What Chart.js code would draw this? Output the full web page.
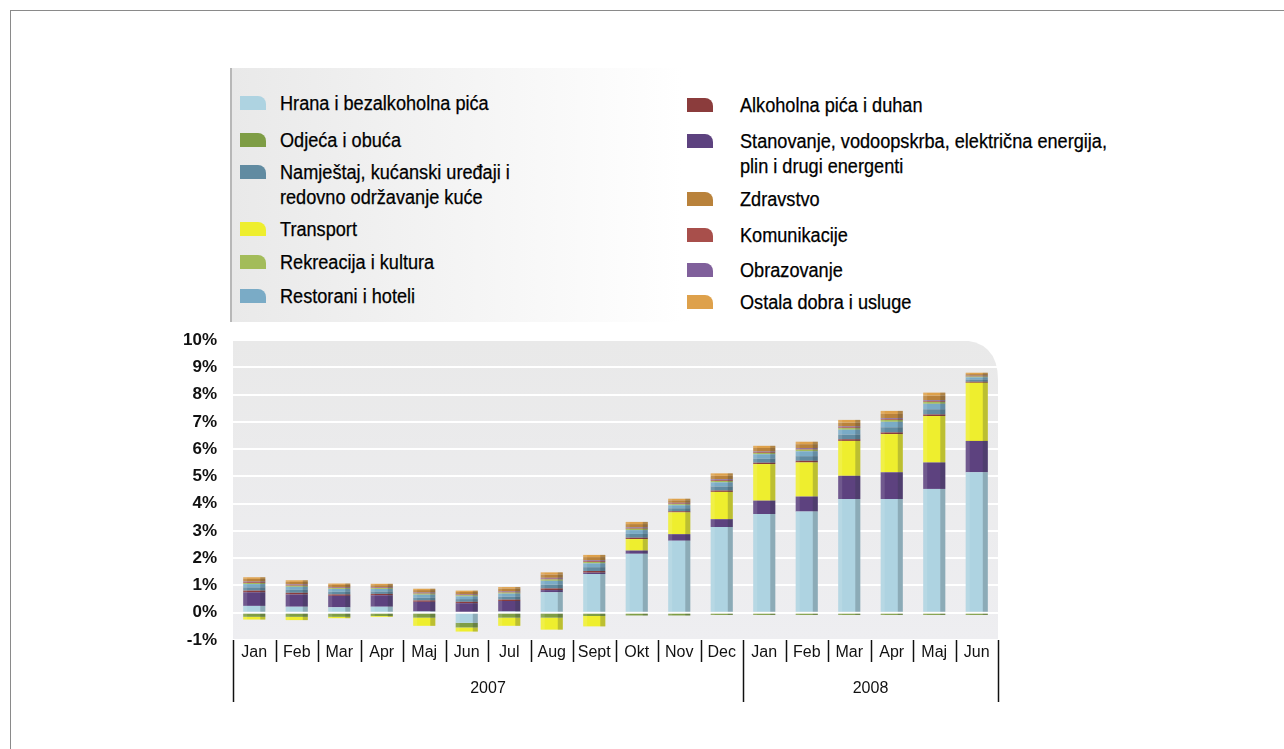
<!DOCTYPE html>
<html>
<head>
<meta charset="utf-8">
<script src="https://cdn.jsdelivr.net/npm/chart.js@4"></script>
<style>
  body { margin: 0; background: #fff; font-family: "Liberation Sans", Arial, sans-serif; }
  #frame { position: absolute; left: 10px; top: 10px; width: 1300px; height: 760px; border-top: 1px solid #8a8a8a; border-left: 1px solid #8a8a8a; }
  #legendBox { position: absolute; left: 230px; top: 68px; width: 450px; height: 254px; border-left: 2px solid #b8b8b8;
    background: linear-gradient(to right, #e9e9e9, #f4f4f4 50%, #ffffff); }
  .item { position: absolute; font-size: 19.5px; line-height: 25px; color: #000; white-space: nowrap;
    transform: scaleX(0.93); transform-origin: left top; -webkit-text-stroke: 0.25px #000; }
  .sw { position: absolute; width: 26px; height: 14px; border-top-right-radius: 8px; }
  canvas { position: absolute; left: 0; top: 0; }
</style>
</head>
<body>
<div id="frame"></div>
<div id="legendBox"></div>
<div id="legend"></div>
<canvas id="myChart" width="1284" height="749"></canvas>
<script>
let months = ["Jan", "Feb", "Mar", "Apr", "Maj", "Jun", "Jul", "Aug", "Sept", "Okt", "Nov", "Dec",
              "Jan", "Feb", "Mar", "Apr", "Maj", "Jun"];
let years = ["2007", "2008"];
let yearSpans = [12, 6];
let yTicks = [-1, 0, 1, 2, 3, 4, 5, 6, 7, 8, 9, 10];

// contributions to inflation, percentage points
let hrana        = [0.25, 0.22, 0.2, 0.22, 0.05, -0.37, 0.05, 0.75, 1.42, 2.16, 2.64, 3.14, 3.62, 3.71, 4.17, 4.17, 4.54, 5.15];
let odjeca       = [-0.15, -0.15, -0.15, -0.12, -0.18, -0.17, -0.18, -0.18, -0.12, -0.1, -0.1, -0.08, -0.08, -0.08, -0.08, -0.08, -0.08, -0.08];
let stanovanje   = [0.5, 0.45, 0.42, 0.42, 0.35, 0.35, 0.38, 0.08, 0.05, 0.12, 0.24, 0.29, 0.49, 0.55, 0.85, 0.98, 0.97, 1.15];
let transport    = [-0.1, -0.12, -0.05, -0.03, -0.3, -0.15, -0.3, -0.44, -0.38, 0.42, 0.8, 1.0, 1.34, 1.25, 1.28, 1.4, 1.7, 2.13];
let alkohol      = [0.06, 0.06, 0.05, 0.05, 0.05, 0.05, 0.05, 0.06, 0.06, 0.05, 0.04, 0.05, 0.05, 0.06, 0.06, 0.06, 0.06, 0.04];
let namjestaj    = [0.12, 0.11, 0.1, 0.09, 0.1, 0.1, 0.11, 0.14, 0.14, 0.14, 0.11, 0.15, 0.15, 0.17, 0.17, 0.19, 0.19, 0.08];
let restorani    = [0.12, 0.11, 0.1, 0.09, 0.11, 0.1, 0.11, 0.14, 0.14, 0.14, 0.11, 0.15, 0.16, 0.18, 0.18, 0.2, 0.2, 0.08];
let rekreacija   = [0.04, 0.04, 0.03, 0.03, 0.04, 0.04, 0.04, 0.05, 0.05, 0.05, 0.04, 0.05, 0.05, 0.06, 0.06, 0.07, 0.07, 0.03];
let komunikacije = [0.03, 0.03, 0.02, 0.02, 0.02, 0.02, 0.03, 0.03, 0.03, 0.03, 0.03, 0.03, 0.03, 0.03, 0.03, 0.03, 0.03, 0.02];
let obrazovanje  = [0.02, 0.02, 0.02, 0.02, 0.02, 0.02, 0.02, 0.03, 0.03, 0.02, 0.02, 0.03, 0.02, 0.03, 0.03, 0.03, 0.03, 0.01];
let zdravstvo    = [0.1, 0.09, 0.08, 0.07, 0.09, 0.08, 0.09, 0.12, 0.12, 0.12, 0.09, 0.13, 0.13, 0.14, 0.14, 0.16, 0.17, 0.06];
let ostalo       = [0.06, 0.06, 0.05, 0.05, 0.05, 0.05, 0.06, 0.08, 0.08, 0.08, 0.06, 0.09, 0.08, 0.09, 0.1, 0.11, 0.11, 0.05];

let series = [
  { label: "Hrana i bezalkoholna pića", data: hrana, color: "#aed3e1" },
  { label: "Odjeća i obuća", data: odjeca, color: "#7e9d45" },
  { label: "Stanovanje, vodoopskrba, električna energija, plin i drugi energenti", data: stanovanje, color: "#5d427f" },
  { label: "Transport", data: transport, color: "#eeee2e" },
  { label: "Alkoholna pića i duhan", data: alkohol, color: "#8b3c3c" },
  { label: "Namještaj, kućanski uređaji i redovno održavanje kuće", data: namjestaj, color: "#618ba1" },
  { label: "Restorani i hoteli", data: restorani, color: "#7aabc6" },
  { label: "Rekreacija i kultura", data: rekreacija, color: "#a3bc5a" },
  { label: "Komunikacije", data: komunikacije, color: "#a84f4b" },
  { label: "Obrazovanje", data: obrazovanje, color: "#80609b" },
  { label: "Zdravstvo", data: zdravstvo, color: "#b9823b" },
  { label: "Ostala dobra i usluge", data: ostalo, color: "#dea14b" },
];

// legend (two columns as in the original)
let legendLeft = [
  ["Hrana i bezalkoholna pića", 91],
  ["Odjeća i obuća", 128],
  ["Namještaj, kućanski uređaji i<br>redovno održavanje kuće", 160],
  ["Transport", 217],
  ["Rekreacija i kultura", 250],
  ["Restorani i hoteli", 284],
];
let legendRight = [
  ["Alkoholna pića i duhan", 93],
  ["Stanovanje, vodoopskrba, električna energija,<br>plin i drugi energenti", 129],
  ["Zdravstvo", 187],
  ["Komunikacije", 223],
  ["Obrazovanje", 258],
  ["Ostala dobra i usluge", 290],
];
function colorOf(name) {
  let plain = name.replace("<br>", " ");
  return series.find(s => s.label === plain).color;
}
let legendHtml = "";
legendLeft.forEach(([t, y]) => {
  legendHtml += `<div class="sw" style="left:240px;top:${y + 5}px;background:${colorOf(t)}"></div>`;
  legendHtml += `<div class="item" style="left:280px;top:${y}px">${t}</div>`;
});
legendRight.forEach(([t, y]) => {
  legendHtml += `<div class="sw" style="left:687px;top:${y + 5}px;background:${colorOf(t)}"></div>`;
  legendHtml += `<div class="item" style="left:740px;top:${y}px">${t}</div>`;
});
document.getElementById("legend").innerHTML = legendHtml;

let sans = "'Liberation Sans', Arial, sans-serif";

// plot background with rounded top-right corner
let plotBg = {
  id: "plotBg",
  beforeDraw(chart) {
    let { ctx, chartArea: a } = chart;
    let r = 40;
    let g = ctx.createLinearGradient(0, a.top, 0, a.bottom);
    g.addColorStop(0, "#e9e9e9");
    g.addColorStop(1, "#eeeef1");
    ctx.save();
    ctx.fillStyle = g;
    ctx.beginPath();
    ctx.moveTo(a.left, a.top);
    ctx.lineTo(a.right - r, a.top);
    ctx.quadraticCurveTo(a.right, a.top, a.right, a.top + r);
    ctx.lineTo(a.right, a.bottom);
    ctx.lineTo(a.left, a.bottom);
    ctx.closePath();
    ctx.fill();
    ctx.restore();
  },
};

// darker right edge on bars for the 3D look
let barShade = {
  id: "barShade",
  afterDatasetsDraw(chart) {
    let ctx = chart.ctx;
    ctx.save();
    chart.data.datasets.forEach((ds, i) => {
      chart.getDatasetMeta(i).data.forEach(bar => {
        let top = Math.min(bar.y, bar.base), h = Math.abs(bar.base - bar.y);
        ctx.fillStyle = "rgba(40,50,60,0.25)";
        ctx.fillRect(bar.x + bar.width / 2 - 5, top, 5, h);
        ctx.fillStyle = "rgba(255,255,255,0.12)";
        ctx.fillRect(bar.x - bar.width / 2, top, 4, h);
      });
    });
    ctx.restore();
  },
};

// month separators and year row under the x axis
let yearRow = {
  id: "yearRow",
  afterDraw(chart) {
    let { ctx, chartArea: a } = chart;
    let xs = chart.scales.x;
    let step = (a.right - a.left) / months.length;
    ctx.save();
    ctx.strokeStyle = "#111";
    ctx.lineWidth = 1.5;
    let yearEdges = [0];
    yearSpans.reduce((acc, n) => { yearEdges.push(acc + n); return acc + n; }, 0);
    for (let i = 0; i <= months.length; i++) {
      let x = Math.round(xs.getPixelForValue(0) - step / 2 + i * step) + 0.5;
      let long = yearEdges.includes(i);
      ctx.beginPath();
      ctx.moveTo(x, a.bottom);
      ctx.lineTo(x, long ? a.bottom + 62 : a.bottom + 22);
      ctx.stroke();
    }
    ctx.fillStyle = "#111";
    ctx.font = "16px " + sans;
    ctx.textAlign = "center";
    ctx.textBaseline = "middle";
    years.forEach((y, k) => {
      let x0 = xs.getPixelForValue(yearEdges[k]) - step / 2;
      let x1 = xs.getPixelForValue(yearEdges[k + 1] - 1) + step / 2;
      ctx.fillText(y, (x0 + x1) / 2, a.bottom + 49);
    });
    ctx.restore();
  },
};

let myChart = document.getElementById("myChart").getContext("2d");
let inflationChart = new Chart(myChart, {
  type: "bar",
  data: {
    labels: months,
    datasets: series.map(s => ({
      label: s.label,
      data: s.data,
      backgroundColor: s.color,
      borderWidth: 0,
      barPercentage: 0.52,
      categoryPercentage: 1,
    })),
  },
  options: {
    responsive: false,
    animation: false,
    layout: { padding: { left: 0, right: 286, top: 340, bottom: 0 } },
    plugins: {
      legend: { display: false },
      tooltip: { enabled: false },
    },
    scales: {
      x: {
        stacked: true,
        grid: { display: false, drawTicks: false },
        border: { display: false },
        ticks: {
          autoSkip: false,
          maxRotation: 0,
          padding: 3,
          color: "#111",
          font: { family: sans, size: 16 },
        },
        afterFit(scale) { scale.height = 109; },
      },
      y: {
        stacked: true,
        min: yTicks[0],
        max: yTicks[yTicks.length - 1],
        ticks: {
          stepSize: 1,
          padding: 16,
          color: "#111",
          font: { family: sans, size: 17, weight: "bold" },
          callback: v => v + "%",
        },
        grid: { color: "#ffffff", lineWidth: 2, drawTicks: false },
        border: { display: false },
        afterFit(scale) { scale.width = 233; },
      },
    },
  },
  plugins: [plotBg, barShade, yearRow],
});
</script>
</body>
</html>
